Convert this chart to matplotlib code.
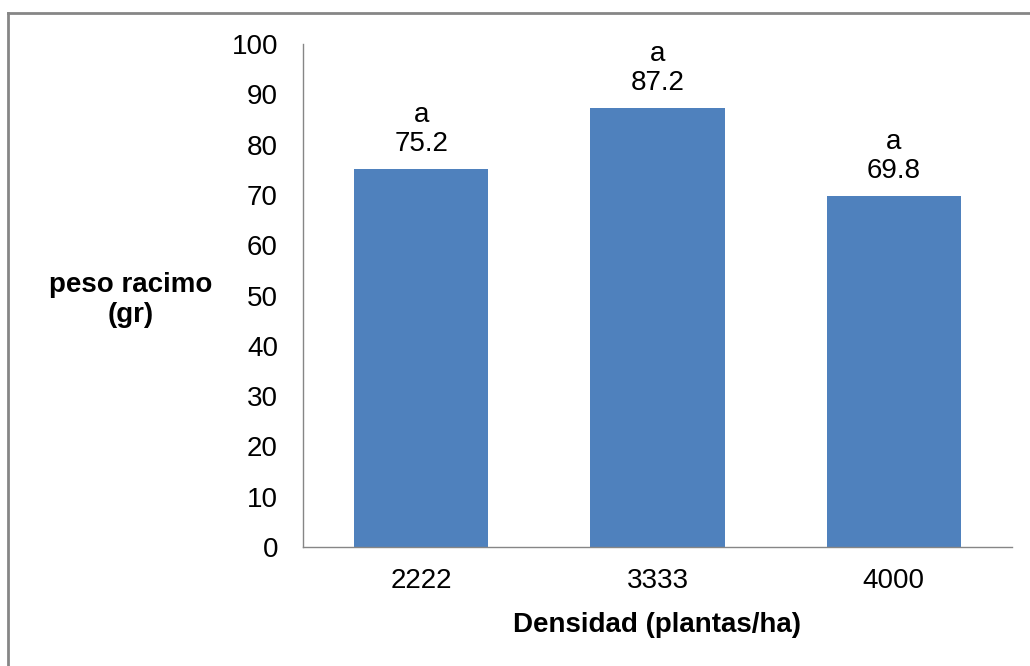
import matplotlib.pyplot as plt
import numpy as np

plt.rcParams['font.family'] = ['Liberation Sans', 'DejaVu Sans']

densidades = ['2222', '3333', '4000']
peso = [75.2, 87.2, 69.8]
letras = ['a', 'a', 'a']
yticks = list(range(0, 101, 10))

azul = '#4F81BD'
gris = '#868686'
fs = 20

fig = plt.figure(figsize=(10.30, 6.66), dpi=100)
ax = fig.add_axes([303/1030, 1 - 547/666, (1012-303)/1030, (547-44)/666])

x = np.arange(len(densidades))
ax.bar(x, peso, width=0.567, color=azul, zorder=2)

for xi, v, l in zip(x, peso, letras):
    ax.text(xi, v + 2.4, l + '\n' + f'{v:.1f}', ha='center', va='bottom',
            fontsize=fs, linespacing=1.15)

ax.set_xlim(-0.5, len(densidades) - 0.5)
ax.set_ylim(0, 100)
ax.set_yticks(yticks)
ax.set_xticks(x)
ax.set_xticklabels(densidades)
ax.tick_params(axis='both', length=0, labelsize=fs)
ax.tick_params(axis='y', pad=18)
ax.tick_params(axis='x', pad=15)

for s in ['top', 'right']:
    ax.spines[s].set_visible(False)
for s in ['left', 'bottom']:
    ax.spines[s].set_color(gris)
    ax.spines[s].set_linewidth(1.0)

fig.text(657/1030, 1 - 632/666, 'Densidad (plantas/ha)', ha='center', va='baseline',
         fontsize=fs, fontweight='bold')
fig.text(131/1030, 1 - 300/666, 'peso racimo\n(gr)', ha='center', va='center',
         fontsize=fs, fontweight='bold', linespacing=1.2)

# marco exterior (solo se ven arriba e izquierda)
fig.add_artist(plt.Line2D([8/1030, 1], [1 - 13/666, 1 - 13/666], color=gris, lw=2.0))
fig.add_artist(plt.Line2D([8/1030, 8/1030], [0, 1 - 13/666], color=gris, lw=2.0))

fig.savefig('out.png', dpi=100)
